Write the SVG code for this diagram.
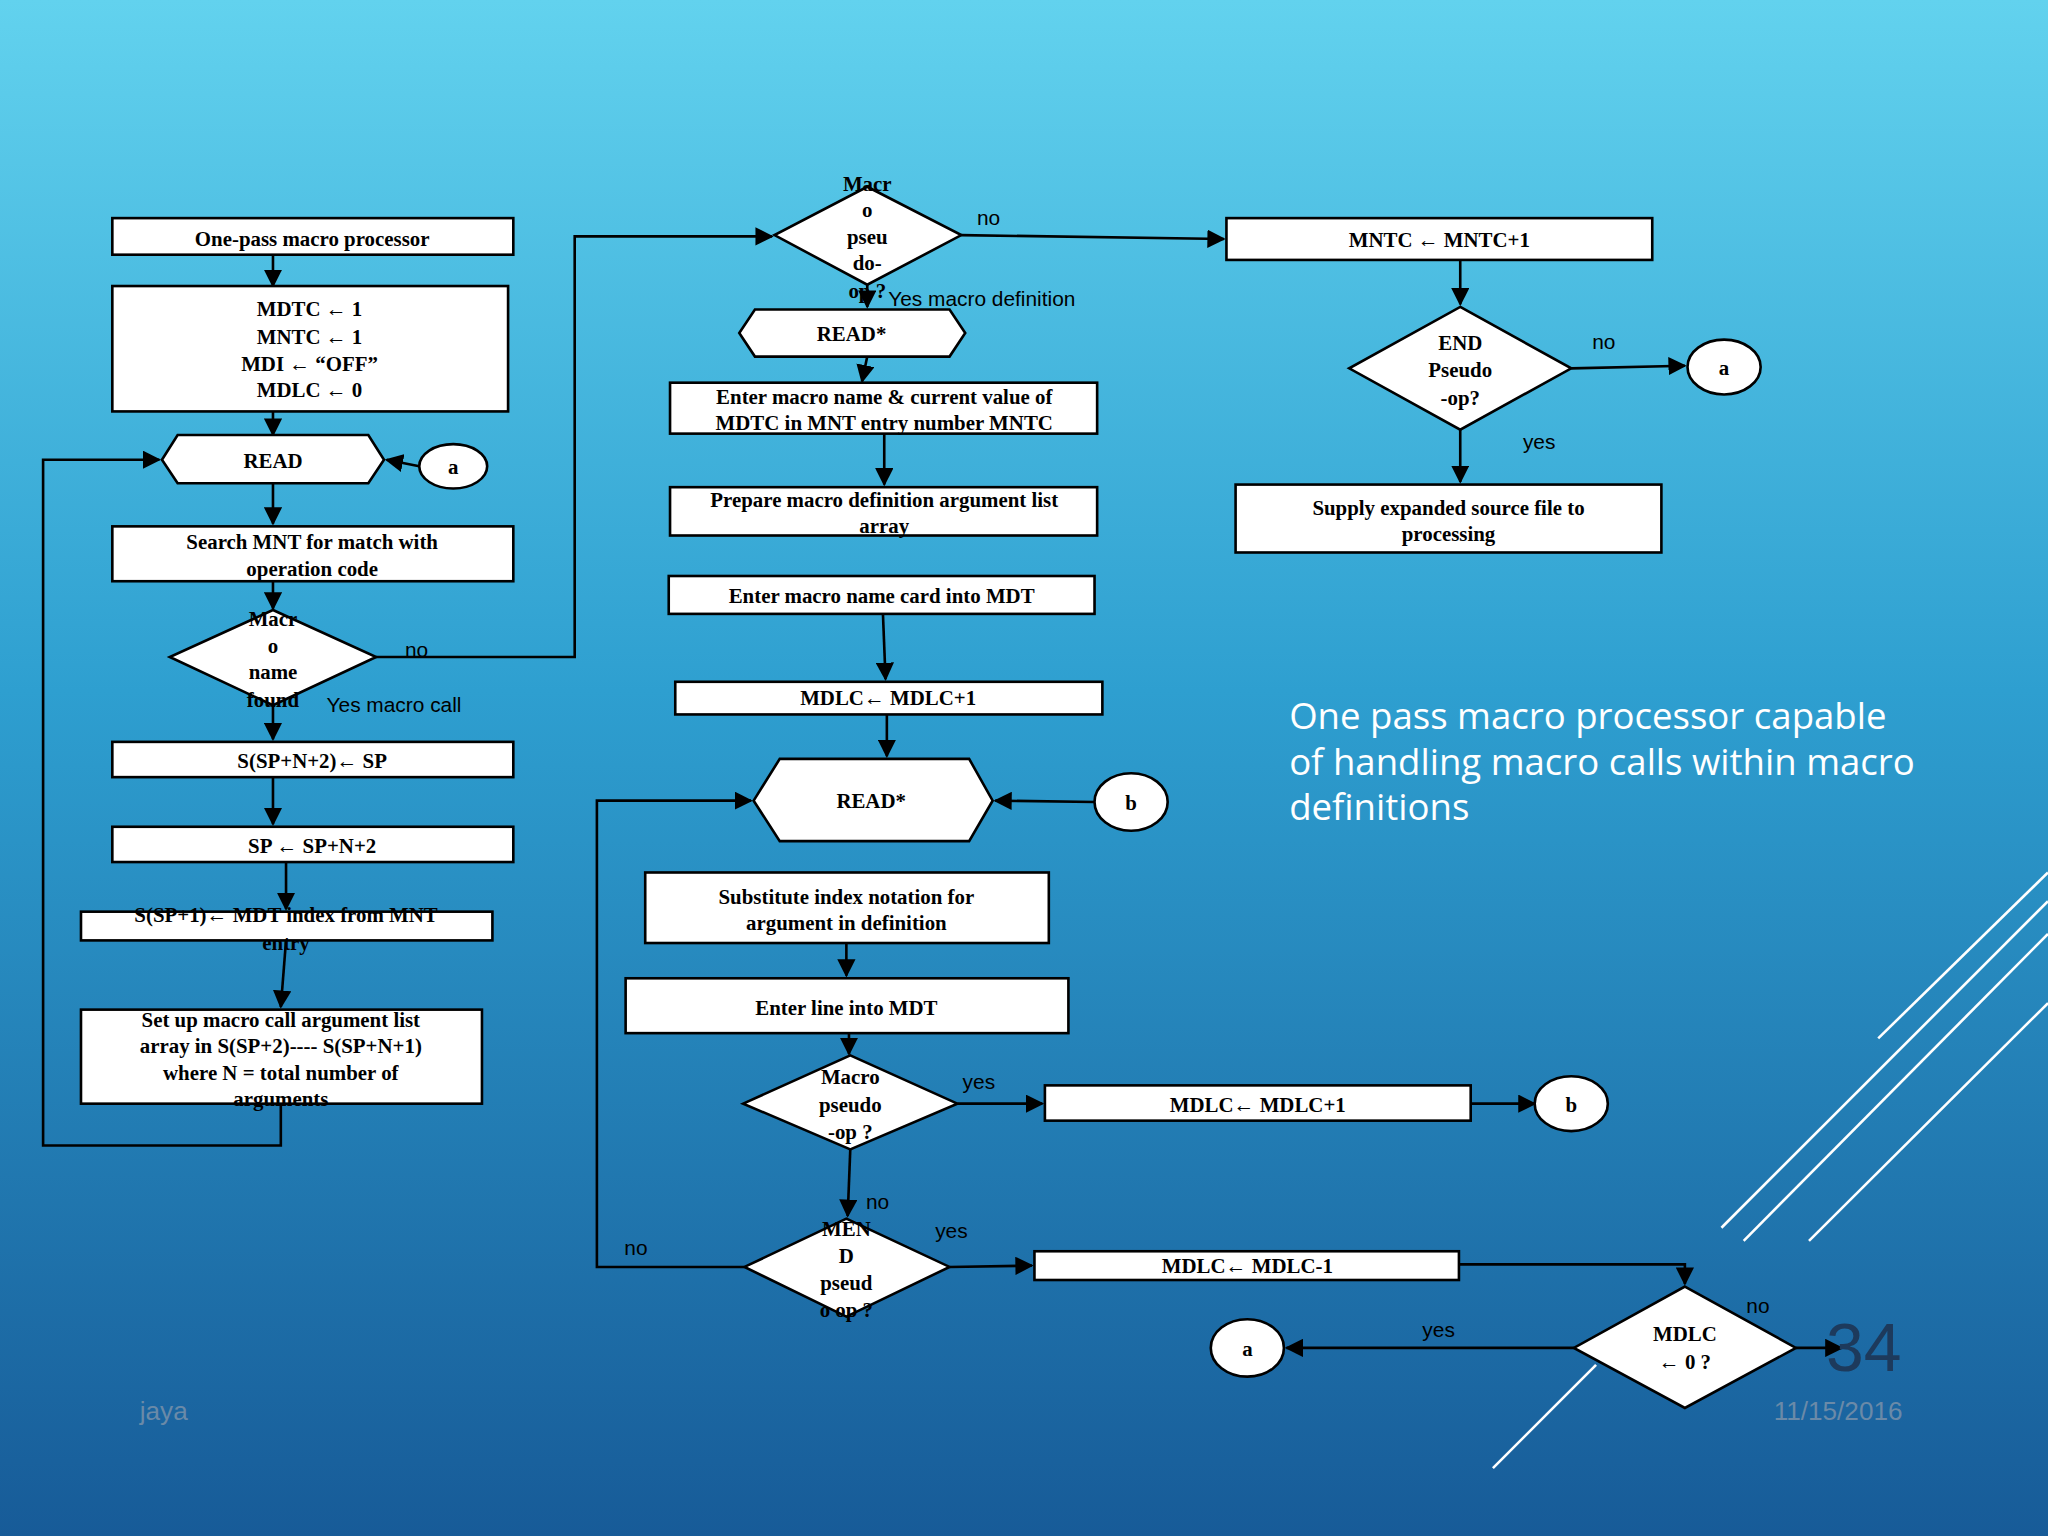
<svg xmlns="http://www.w3.org/2000/svg" width="2048" height="1536" viewBox="0 0 2048 1536">
<defs>
<linearGradient id="bg" x1="0" y1="0" x2="0" y2="1">
<stop offset="0" stop-color="#62d2ee"/><stop offset="0.45" stop-color="#2e9fd0"/><stop offset="1" stop-color="#175b98"/>
</linearGradient>
<marker id="ar" viewBox="0 0 10 10" refX="9" refY="5" markerWidth="7" markerHeight="7" orient="auto"><path d="M0,0 L10,5 L0,10 z" fill="#000"/></marker>
<style>
.n{fill:#fff;stroke:#000;stroke-width:2}
.t{font-family:"Liberation Serif",serif;font-weight:bold;font-size:16px;fill:#000;text-anchor:middle}
.l{font-family:"Liberation Sans",sans-serif;font-size:16px;fill:#000}
.c{fill:none;stroke:#000;stroke-width:2;marker-end:url(#ar)}
.p{fill:none;stroke:#000;stroke-width:2}
.w{stroke:#fff;stroke-width:2}
</style>
</defs>
<rect width="2048" height="1536" fill="url(#bg)"/>
<g transform="scale(1.30612)">
<g id="deco">
<line class="w" x1="1438" y1="795" x2="1568" y2="668"/>
<line class="w" x1="1318" y1="940" x2="1568" y2="690" stroke-width="4"/>
<line class="w" x1="1335" y1="950" x2="1568" y2="715"/>
<line class="w" x1="1385" y1="950" x2="1568" y2="768" stroke-width="5"/>
<line class="w" x1="1143" y1="1124" x2="1222" y2="1045"/>
</g>
<g id="connectors">
<path class="c" d="M209,195 V219"/>
<path class="c" d="M209,315 V333"/>
<path class="c" d="M321,357 L296,352"/>
<path class="c" d="M209,370 V401"/>
<path class="c" d="M209,445 V466"/>
<path class="c" d="M209,540 V566"/>
<path class="c" d="M209,595 V631"/>
<path class="c" d="M219,660 V696"/>
<path class="c" d="M219,720 L215,771"/>
<path class="c" d="M215,845 V877 H33 V352 H122"/>
<path class="c" d="M288,503 H440 V181 H591"/>
<path class="c" d="M736,180 L937,183"/>
<path class="c" d="M664,218 V235"/>
<path class="c" d="M664,273 L660,292"/>
<path class="c" d="M677,332 V371"/>
<path class="c" d="M676,470 L678,520"/>
<path class="c" d="M679,547 V579"/>
<path class="c" d="M838,614 L762,613"/>
<path class="c" d="M648,722 V747"/>
<path class="c" d="M650,791 V807"/>
<path class="c" d="M733,845 H798"/>
<path class="c" d="M1126,845 H1175"/>
<path class="c" d="M651,880 L649,931"/>
<path class="c" d="M727,970 L790,969"/>
<path class="c" d="M1117,968 H1290 V983"/>
<path class="c" d="M570,970 H457 V613 H575"/>
<path class="c" d="M1375,1032 H1410"/>
<path class="c" d="M1205,1032 H985"/>
<path class="c" d="M1118,199 V233"/>
<path class="c" d="M1203,282 L1290,280"/>
<path class="c" d="M1118,329 V369"/>
</g>
<g id="n1"><rect class="n" x="86" y="167" width="307" height="28"/><text class="t" x="239" y="188">One-pass macro processor</text></g>
<g id="n2"><rect class="n" x="86" y="219" width="303" height="96"/><text class="t" x="237" y="242">MDTC ← 1</text><text class="t" x="237" y="263">MNTC ← 1</text><text class="t" x="237" y="284">MDI ← “OFF”</text><text class="t" x="237" y="304">MDLC ← 0</text></g>
<g id="n3"><polygon class="n" points="136,333 282,333 294,352 282,370 136,370 124,352"/><text class="t" x="209" y="358">READ</text></g>
<g id="n4"><ellipse class="n" cx="347" cy="357" rx="26" ry="17"/><text class="t" x="347" y="363">a</text></g>
<g id="n5"><rect class="n" x="86" y="403" width="307" height="42"/><text class="t" x="239" y="420">Search MNT for match with</text><text class="t" x="239" y="441">operation code</text></g>
<g id="n6"><polygon class="n" points="209,467 288,503 209,540 130,503"/><text class="t" x="209" y="479">Macr</text><text class="t" x="209" y="500">o</text><text class="t" x="209" y="520">name</text><text class="t" x="209" y="541">found</text></g>
<text class="l" x="310" y="503">no</text><text class="l" x="250" y="545">Yes macro call</text>
<g id="n7"><rect class="n" x="86" y="568" width="307" height="27"/><text class="t" x="239" y="588">S(SP+N+2)← SP</text></g>
<g id="n8"><rect class="n" x="86" y="633" width="307" height="27"/><text class="t" x="239" y="653">SP ← SP+N+2</text></g>
<g id="n9"><rect class="n" x="62" y="698" width="315" height="22"/><text class="t" x="219" y="706">S(SP+1)← MDT index from MNT</text><text class="t" x="219" y="727">entry</text></g>
<g id="n10"><rect class="n" x="62" y="773" width="307" height="72"/><text class="t" x="215" y="786">Set up macro call argument list</text><text class="t" x="215" y="806">array in S(SP+2)---- S(SP+N+1)</text><text class="t" x="215" y="827">where N = total number of</text><text class="t" x="215" y="847">arguments</text></g>
<g id="n11"><polygon class="n" points="664,143 736,180 664,218 593,180"/><text class="t" x="664" y="146">Macr</text><text class="t" x="664" y="166">o</text><text class="t" x="664" y="187">pseu</text><text class="t" x="664" y="207">do-</text><text class="t" x="664" y="228">op ?</text></g>
<text class="l" x="748" y="172">no</text><text class="l" x="680" y="234">Yes macro definition</text>
<g id="n12"><polygon class="n" points="578,237 727,237 739,255 727,273 578,273 566,255"/><text class="t" x="652" y="261">READ*</text></g>
<g id="n13"><rect class="n" x="513" y="293" width="327" height="39"/><text class="t" x="677" y="309">Enter macro name &amp; current value of</text><text class="t" x="677" y="329">MDTC in MNT entry number MNTC</text></g>
<g id="n14"><rect class="n" x="513" y="373" width="327" height="37"/><text class="t" x="677" y="388">Prepare macro definition argument list</text><text class="t" x="677" y="408">array</text></g>
<g id="n15"><rect class="n" x="512" y="441" width="326" height="29"/><text class="t" x="675" y="462">Enter macro name card into MDT</text></g>
<g id="n16"><rect class="n" x="517" y="522" width="327" height="25"/><text class="t" x="680" y="540">MDLC← MDLC+1</text></g>
<g id="n17"><polygon class="n" points="597,581 742,581 760,613 742,644 597,644 577,613"/><text class="t" x="667" y="619">READ*</text></g>
<g id="n18"><ellipse class="n" cx="866" cy="614" rx="28" ry="22"/><text class="t" x="866" y="620">b</text></g>
<g id="n19"><rect class="n" x="494" y="668" width="309" height="54"/><text class="t" x="648" y="692">Substitute index notation for</text><text class="t" x="648" y="712">argument in definition</text></g>
<g id="n20"><rect class="n" x="479" y="749" width="339" height="42"/><text class="t" x="648" y="777">Enter line into MDT</text></g>
<g id="n21"><polygon class="n" points="651,808 733,845 651,880 569,845"/><text class="t" x="651" y="830">Macro</text><text class="t" x="651" y="851">pseudo</text><text class="t" x="651" y="872">-op ?</text></g>
<text class="l" x="737" y="834">yes</text><text class="l" x="663" y="926">no</text>
<g id="n22"><rect class="n" x="800" y="831" width="326" height="27"/><text class="t" x="963" y="851">MDLC← MDLC+1</text></g>
<g id="n23"><ellipse class="n" cx="1203" cy="845" rx="28" ry="21"/><text class="t" x="1203" y="851">b</text></g>
<g id="n24"><polygon class="n" points="648,933 727,970 648,1008 570,970"/><text class="t" x="648" y="946">MEN</text><text class="t" x="648" y="967">D</text><text class="t" x="648" y="988">pseud</text><text class="t" x="648" y="1008">o op ?</text></g>
<text class="l" x="716" y="948">yes</text><text class="l" x="478" y="961">no</text>
<g id="n25"><rect class="n" x="792" y="958" width="325" height="22"/><text class="t" x="955" y="975">MDLC← MDLC-1</text></g>
<g id="n26"><polygon class="n" points="1290,985 1375,1032 1290,1078 1205,1032"/><text class="t" x="1290" y="1027">MDLC</text><text class="t" x="1290" y="1048">← 0 ?</text></g>
<text class="l" x="1337" y="1005">no</text><text class="l" x="1089" y="1024">yes</text>
<g id="n27"><ellipse class="n" cx="955" cy="1032" rx="28" ry="22"/><text class="t" x="955" y="1038">a</text></g>
<g id="n28"><rect class="n" x="939" y="167" width="326" height="32"/><text class="t" x="1102" y="189">MNTC ← MNTC+1</text></g>
<g id="n29"><polygon class="n" points="1118,235 1203,282 1118,329 1033,282"/><text class="t" x="1118" y="268">END</text><text class="t" x="1118" y="289">Pseudo</text><text class="t" x="1118" y="310">-op?</text></g>
<text class="l" x="1219" y="267">no</text><text class="l" x="1166" y="344">yes</text>
<g id="n30"><ellipse class="n" cx="1320" cy="281" rx="28" ry="21"/><text class="t" x="1320" y="287">a</text></g>
<g id="n31"><rect class="n" x="946" y="371" width="326" height="52"/><text class="t" x="1109" y="394">Supply expanded source file to</text><text class="t" x="1109" y="414">processing</text></g>
<g id="caption" font-family="'Open Sans','Liberation Sans',sans-serif" font-size="28" fill="#fff">
<text x="987" y="558">One pass macro processor capable</text>
<text x="987" y="593">of handling macro calls within macro</text>
<text x="987" y="628">definitions</text>
</g>
<text x="1398" y="1050" font-family="'Liberation Sans',sans-serif" font-size="52" fill="#1d3a5c">34</text>
<text x="107" y="1087" font-family="'Liberation Sans',sans-serif" font-size="20" fill="#6a8aa8">jaya</text>
<text x="1358" y="1087" font-family="'Liberation Sans',sans-serif" font-size="20" fill="#6a8aa8">11/15/2016</text>
</g>
</svg>
